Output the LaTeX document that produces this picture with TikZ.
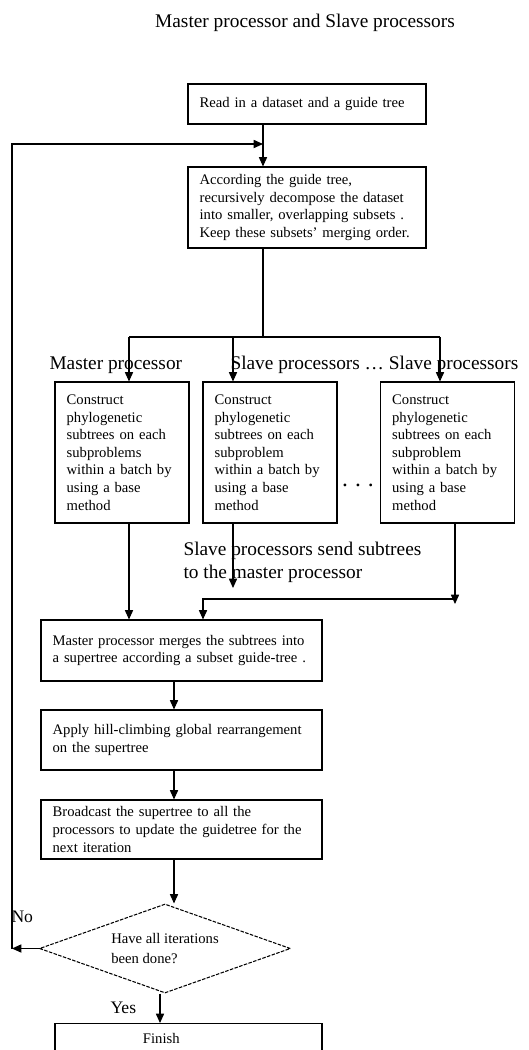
\documentclass[tikz,border=0pt]{standalone}
\usepackage{fontspec}
\setmainfont{Liberation Serif}
\usetikzlibrary{shapes.geometric,arrows.meta,calc}

\begin{document}
\begin{tikzpicture}[x=0.03cm, y=-0.03cm, line width=0.9pt,
  arr/.style={-{Triangle[length=8pt,width=7pt]}},
  stepbox/.style={draw, rectangle, inner xsep=0.35cm, inner ysep=0pt, align=left,
    font=\fontsize{12.5}{15}\selectfont},
  subbox/.style={stepbox, minimum width=4.02cm, minimum height=4.23cm, text width=3.32cm},
  widebox/.style={stepbox, minimum width=8.43cm, text width=7.73cm},
  lbl/.style={inner sep=0pt, font=\fontsize{16.5}{19.5}\selectfont}]
  \useasboundingbox (0,0) rectangle (529,1050);
  \clip (0,0) rectangle (529,1050);

  % Title
  \node[lbl] (title) at (305,23) {Master processor and Slave processors};

  % Read and decompose
  \node[stepbox, minimum width=7.14cm, minimum height=1.2cm, text width=6.44cm] (read) at (307,104)
    {Read in a dataset and a guide tree};
  \node[stepbox, minimum width=7.14cm, minimum height=2.43cm, text width=6.44cm] (decomp) at (307,207.5)
    {According the guide tree,\\recursively decompose the dataset\\into smaller, overlapping subsets .\\Keep these subsets' merging order.};

  % Processors
  \node[lbl, anchor=west] (mlabel) at (49,365) {Master processor};
  \node[lbl, anchor=west] (slabel) at (230,365) {Slave processors \ldots\ Slave processors};
  \node[subbox] (master) at (122,452.5)
    {Construct\\phylogenetic\\subtrees on each\\subproblems\\within a batch by\\using a base\\method};
  \node[subbox] (slave1) at (270,452.5)
    {Construct\\phylogenetic\\subtrees on each\\subproblem\\within a batch by\\using a base\\method};
  \node[inner sep=0pt, anchor=base, font=\fontsize{20}{20}\selectfont] (gap) at (358,486)
    {.\hspace{6pt}.\hspace{6pt}.};
  \node[subbox] (slave2) at (447.5,452.5)
    {Construct\\phylogenetic\\subtrees on each\\subproblem\\within a batch by\\using a base\\method};
  \node[lbl, anchor=west, align=left] (sendlbl) at (183,562.5)
    {Slave processors send subtrees\\to the master processor};

  % Merge, climb, broadcast
  \node[widebox, minimum height=1.83cm] (merge) at (181.5,650.5)
    {Master processor merges the subtrees into\\a supertree according a subset guide-tree .};
  \node[widebox, minimum height=1.8cm] (apply) at (181.5,740)
    {Apply hill-climbing global rearrangement\\on the supertree};
  \node[widebox, minimum height=1.77cm] (bcast) at (181.5,829.5)
    {Broadcast the supertree to all the\\processors to update the guidetree for the\\next iteration};

  % Decision and finish
  \node[draw, diamond, aspect=2.8, dash pattern=on 3pt off 1.2pt, minimum width=7.53cm, minimum height=2.67cm,
    inner sep=0pt, align=left, font=\fontsize{12.5}{17}\selectfont] (ask) at (165,948.5)
    {Have all iterations\\been done?};
  \node[stepbox, anchor=north, minimum width=8.01cm, text width=8.01cm, inner xsep=0pt,
    text height=0.6cm, text depth=1cm] (finish) at (188.5,1023) {\hspace*{2.64cm}Finish};
  \node[lbl, anchor=west, font=\fontsize{15}{18}\selectfont] (nolbl) at (11,917) {No};
  \node[lbl, anchor=west, font=\fontsize{15}{18}\selectfont] (yeslbl) at (110,1008) {Yes};

  % Junction points
  \coordinate (spine) at (263,144);
  \coordinate (split) at (263,337);
  \coordinate (mdrop) at (129,337);
  \coordinate (s1drop) at (233,337);
  \coordinate (s2drop) at (440,337);
  \coordinate (s1end) at (233,588);
  \coordinate (gather) at (455,604);
  \coordinate (sendline) at (455,599);
  \coordinate (mjoin) at (203,599);
  \coordinate (trunk) at (174,0);
  \coordinate (yesx) at (160,0);
  \coordinate (noturn) at (12,948.5);

  % Top lines
  \draw[arr] (read.south -| spine) -- (decomp.north -| spine);
  \draw (decomp.south -| split) -- (split);
  \draw (mdrop) -- (s2drop);
  \draw[arr] (mdrop) -- (mdrop |- master.north);
  \draw[arr] (s1drop) -- (s1drop |- slave1.north);
  \draw[arr] (s2drop) -- (s2drop |- slave2.north);

  % Subtrees back to master
  \draw[arr] (master.south -| mdrop) -- (merge.north -| mdrop);
  \draw[arr] (slave1.south -| s1end) -- (s1end);
  \draw[arr] (slave2.south -| gather) -- (gather);
  \draw[arr] (sendline) -| (merge.north -| mjoin);

  % Down the chain
  \draw[arr] (merge.south -| trunk) -- (apply.north -| trunk);
  \draw[arr] (apply.south -| trunk) -- (bcast.north -| trunk);
  \draw[arr] (bcast.south -| trunk) -- (ask.north -| trunk);
  \draw[arr] (ask.south -| yesx) -- (finish.north -| yesx);

  % Loop back
  \draw[arr] (ask.west) -- (noturn);
  \draw[arr] (noturn) |- (spine);
\end{tikzpicture}
\end{document}
